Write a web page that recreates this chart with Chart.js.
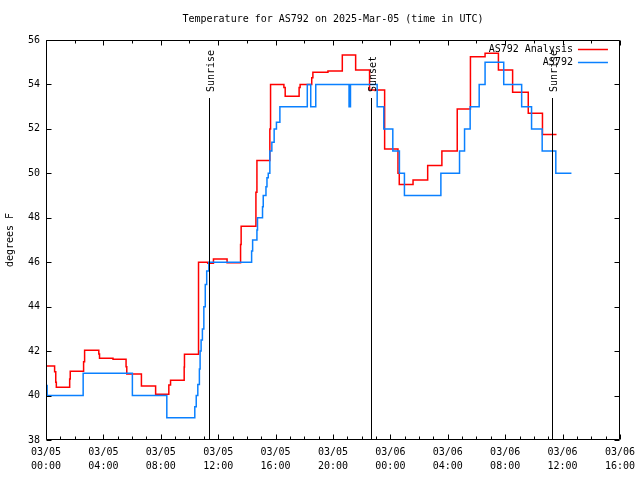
<!DOCTYPE html>
<html>
<head>
<meta charset="utf-8">
<script src="https://cdn.jsdelivr.net/npm/chart.js@4.4.1/dist/chart.umd.min.js"></script>
<style>
  body { margin: 0; background: #fff; }
  #wrap { width: 640px; height: 480px; }
</style>
</head>
<body>
<div id="wrap"><canvas id="tempChart" width="640" height="480"></canvas></div>
<script>
// hours since 03/05 00:00 UTC
const redHours = [0, 0.6, 0.68, 0.72, 1.65, 1.69, 2.62, 2.69, 3.68, 3.73, 4.67, 5.58, 5.63, 6.65, 7.64, 8.56, 8.68, 9.63, 9.65, 10.63, 11.27, 11.67, 12.62, 13.56, 13.6, 14.63, 14.7, 15.6, 15.65, 16.58, 16.67, 17.64, 17.71, 18.52, 18.6, 19.65, 20.65, 21.58, 22.55, 23.6, 24.53, 24.62, 25.58, 26.6, 27.59, 28.66, 29.58, 30.6, 31.53, 32.52, 33.61, 34.6, 35.58];
const redTemp = [41.33, 41.07, 40.6, 40.37, 40.75, 41.09, 41.52, 42.04, 41.87, 41.68, 41.63, 41.3, 40.97, 40.43, 40.06, 40.47, 40.69, 41.29, 41.86, 46.0, 45.95, 46.15, 45.98, 46.8, 47.62, 49.15, 50.58, 52.0, 54.0, 53.86, 53.47, 53.86, 54.0, 54.3, 54.55, 54.6, 55.33, 54.65, 53.75, 51.1, 50.0, 49.5, 49.7, 50.35, 51.0, 52.9, 55.25, 55.4, 54.65, 53.65, 52.7, 51.75, 51.75];

const blueHours = [0, 0.08, 2.59, 6.02, 8.42, 10.37, 10.47, 10.58, 10.69, 10.74, 10.81, 10.9, 11.0, 11.1, 11.2, 11.35, 14.33, 14.4, 14.7, 14.74, 15.09, 15.14, 15.33, 15.4, 15.49, 15.6, 15.74, 15.9, 16.06, 16.3, 18.21, 18.45, 18.8, 21.12, 21.22, 23.08, 23.54, 24.17, 24.63, 24.98, 27.52, 28.82, 29.17, 29.56, 30.19, 30.6, 31.9, 33.15, 33.84, 34.58, 35.53, 36.62];
const blueTemp = [40.45, 40.0, 41.0, 40.0, 39.0, 39.5, 40.0, 40.5, 41.2, 42.0, 42.5, 43.0, 44.0, 45.0, 45.6, 46.0, 46.5, 47.0, 47.45, 48.0, 48.5, 49.0, 49.4, 49.8, 50.0, 51.0, 51.4, 52.0, 52.3, 53.0, 54.0, 53.0, 54.0, 53.0, 54.0, 53.0, 52.0, 51.0, 50.0, 49.0, 50.0, 51.0, 52.0, 53.0, 54.0, 55.0, 54.0, 53.0, 52.0, 51.0, 50.0, 50.0];

const eventHours = [11.34, 22.62, 35.23];
const eventLabels = ['Sunrise', 'Sunset', 'Sunrise'];

const xTickLabels = [
  ['03/05', '00:00'], ['03/05', '04:00'], ['03/05', '08:00'], ['03/05', '12:00'],
  ['03/05', '16:00'], ['03/05', '20:00'], ['03/06', '00:00'], ['03/06', '04:00'],
  ['03/06', '08:00'], ['03/06', '12:00'], ['03/06', '16:00']
];

const titleText = 'Temperature for AS792 on 2025-Mar-05 (time in UTC)';
const MONO = "'DejaVu Sans Mono', 'Liberation Mono', monospace";

const toPoints = (xs, ys) => xs.map((h, i) => ({ x: h, y: ys[i] }));

// frame, inward ticks, sun events, legend, title
const overlay = {
  id: 'overlay',
  afterDatasetsDraw(chart) {
    const { ctx, chartArea: a, scales } = chart;
    const xs = scales.x, ys = scales.y;
    const L = Math.round(a.left) + 0.5, R = Math.round(a.right) - 0.5;
    const T = Math.round(a.top) + 0.5, B = Math.round(a.bottom) - 0.5;
    ctx.save();
    ctx.strokeStyle = '#000';
    ctx.lineWidth = 1;
    ctx.beginPath();
    // x ticks: bottom every hour, top every 2 hours
    for (let h = 0; h <= 40; h++) {
      const px = Math.round(xs.getPixelForValue(h)) + 0.5;
      const len = h % 4 === 0 ? 5 : 3;
      ctx.moveTo(px, B); ctx.lineTo(px, B - len);
      if (h % 2 === 0) { ctx.moveTo(px, T); ctx.lineTo(px, T + len); }
    }
    for (let v = 38; v <= 56; v += 2) {
      const py = Math.round(ys.getPixelForValue(v)) + 0.5;
      ctx.moveTo(L, py); ctx.lineTo(L + 5, py);
      ctx.moveTo(R, py); ctx.lineTo(R - 5, py);
    }
    ctx.rect(L, T, R - L, B - T);
    ctx.stroke();

    // sunrise / sunset
    ctx.font = '10px ' + MONO;
    ctx.fillStyle = '#000';
    eventHours.forEach((h, i) => {
      const px = Math.round(xs.getPixelForValue(h)) + 0.5;
      ctx.beginPath();
      ctx.moveTo(px, a.top + 58); ctx.lineTo(px, B);
      ctx.stroke();
      ctx.save();
      ctx.translate(px + 1.5, a.top + 52);
      ctx.rotate(-Math.PI / 2);
      ctx.textAlign = 'left';
      ctx.textBaseline = 'middle';
      ctx.fillText(eventLabels[i], 0, 0);
      ctx.restore();
    });

    // legend
    ctx.textAlign = 'right';
    ctx.textBaseline = 'middle';
    chart.data.datasets.forEach((ds, i) => {
      const ly = a.top + 9 + i * 13;
      ctx.fillStyle = '#000';
      ctx.fillText(ds.label, a.right - 47, ly);
      ctx.strokeStyle = ds.borderColor;
      ctx.lineWidth = 1.5;
      ctx.beginPath();
      ctx.moveTo(a.right - 42, ly + 0.5); ctx.lineTo(a.right - 12, ly + 0.5);
      ctx.stroke();
    });

    // title centred over plot
    ctx.fillStyle = '#000';
    ctx.textAlign = 'center';
    ctx.fillText(titleText, (a.left + a.right) / 2, 19);
    ctx.restore();
  }
};

new Chart(document.getElementById('tempChart'), {
  type: 'line',
  data: {
    datasets: [
      {
        label: 'AS792 Analysis',
        data: toPoints(redHours, redTemp),
        borderColor: '#ff0000',
        borderWidth: 1.5,
        stepped: 'before',
        pointRadius: 0,
        fill: false,
        order: 1
      },
      {
        label: 'AS792',
        data: toPoints(blueHours, blueTemp),
        borderColor: '#0a80ff',
        borderWidth: 1.5,
        stepped: 'before',
        pointRadius: 0,
        fill: false,
        order: 0
      }
    ]
  },
  options: {
    responsive: false,
    animation: false,
    events: [],
    layout: { padding: { top: 40, right: 18, left: 0, bottom: 0 } },
    plugins: {
      legend: { display: false },
      title: { display: false },
      tooltip: { enabled: false }
    },
    scales: {
      x: {
        type: 'linear',
        min: 0,
        max: 40,
        grid: { display: false, drawTicks: false },
        border: { display: false },
        afterFit: s => { s.height = 40; },
        ticks: {
          stepSize: 4,
          autoSkip: false,
          maxRotation: 0,
          padding: 5,
          color: '#000',
          font: { family: MONO, size: 10, lineHeight: 1.4 },
          callback: (v, i) => xTickLabels[i]
        }
      },
      y: {
        min: 38,
        max: 56,
        grid: { display: false, drawTicks: false },
        border: { display: false },
        afterFit: s => { s.width = 46; },
        title: {
          display: true,
          text: 'degrees F',
          color: '#000',
          font: { family: MONO, size: 10 },
          padding: { top: 4, bottom: 0 }
        },
        ticks: {
          stepSize: 2,
          padding: 6,
          color: '#000',
          font: { family: MONO, size: 10 }
        }
      }
    }
  },
  plugins: [overlay]
});
</script>
</body>
</html>
